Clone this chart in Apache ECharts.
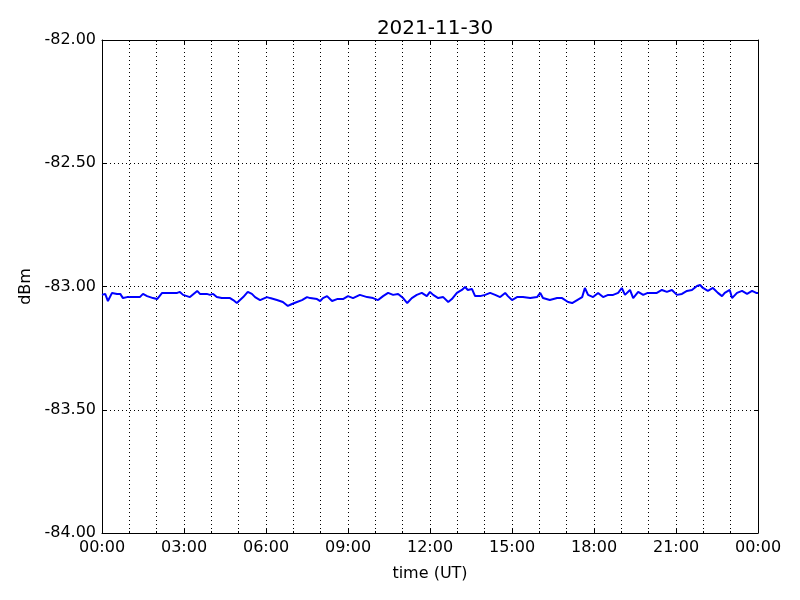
<!DOCTYPE html>
<html>
<head>
<meta charset="utf-8">
<script src="https://cdn.jsdelivr.net/npm/echarts@6/dist/echarts.min.js"></script>
<style>html,body{margin:0;padding:0;background:#fff}#c{width:800px;height:600px}</style>
</head>
<body>
<div id="c"></div>
<script>
// time in minutes since 00:00 UT
const minutes = [0,2,7,13,22,33,40,46,55,68,83,90,99,112,121,132,143,149,165,171,178,193,209,215,230,237,244,252,263,281,288,296,303,310,320,329,336,347,362,369,384,397,408,417,428,439,450,457,472,479,485,494,505,516,529,540,551,566,582,595,606,617,628,639,650,661,670,680,691,702,713,720,727,738,749,760,768,779,790,797,803,812,819,830,841,852,863,874,885,891,900,911,924,940,955,962,968,983,999,1010,1023,1032,1043,1054,1060,1067,1078,1089,1100,1111,1122,1133,1141,1148,1159,1166,1177,1188,1198,1207,1218,1229,1240,1251,1262,1273,1284,1295,1306,1313,1319,1330,1341,1352,1361,1367,1378,1383,1394,1405,1416,1427,1436,1440];
// signal level, dBm
const dbm = [-83.034,-83.034,-83.030,-83.059,-83.026,-83.030,-83.030,-83.047,-83.043,-83.043,-83.043,-83.030,-83.039,-83.047,-83.051,-83.026,-83.026,-83.026,-83.026,-83.022,-83.034,-83.043,-83.018,-83.030,-83.030,-83.034,-83.030,-83.043,-83.047,-83.047,-83.055,-83.067,-83.055,-83.043,-83.022,-83.030,-83.043,-83.055,-83.043,-83.047,-83.055,-83.063,-83.079,-83.071,-83.063,-83.055,-83.043,-83.047,-83.051,-83.059,-83.047,-83.039,-83.059,-83.051,-83.051,-83.039,-83.047,-83.034,-83.043,-83.047,-83.055,-83.039,-83.026,-83.034,-83.030,-83.047,-83.067,-83.047,-83.034,-83.026,-83.039,-83.022,-83.034,-83.047,-83.043,-83.063,-83.051,-83.026,-83.014,-83.002,-83.014,-83.010,-83.039,-83.039,-83.034,-83.026,-83.034,-83.043,-83.026,-83.039,-83.055,-83.043,-83.043,-83.047,-83.043,-83.026,-83.047,-83.055,-83.047,-83.047,-83.063,-83.067,-83.055,-83.043,-83.006,-83.034,-83.043,-83.026,-83.043,-83.034,-83.034,-83.026,-83.006,-83.034,-83.014,-83.047,-83.022,-83.034,-83.026,-83.026,-83.026,-83.014,-83.022,-83.014,-83.034,-83.030,-83.018,-83.014,-82.998,-82.994,-83.006,-83.018,-83.006,-83.026,-83.039,-83.026,-83.014,-83.047,-83.026,-83.018,-83.030,-83.018,-83.026,-83.026];
const titleText = '2021-11-30';
const xName = 'time (UT)';
const yName = 'dBm';
const yMin = -84, yMax = -82, yStep = 0.5;
const xMin = 0, xMax = 1440, xStep = 180;

const font = 'DejaVu Sans';
const pad = n => String(n).padStart(2, '0');
const fmtTime = v => pad(Math.floor(v / 60) % 24) + ':' + pad(Math.round(v % 60));
const dotted = { color: '#000', width: 1, type: [1, 3] };

const chart = echarts.init(document.getElementById('c'), null, { renderer: 'canvas' });
chart.setOption({
  animation: false,
  backgroundColor: '#fff',
  title: {
    text: titleText, left: 430, top: 14, textAlign: 'center',
    textStyle: { fontFamily: font, fontSize: 20, fontWeight: 'normal', color: '#000' }
  },
  grid: { left: 102, right: 42, top: 40, bottom: 67, show: false },
  xAxis: [{
    type: 'value', min: xMin, max: xMax, interval: xStep,
    name: xName, nameLocation: 'middle', nameGap: 33,
    nameTextStyle: { fontFamily: font, fontSize: 16, color: '#000' },
    axisLine: { show: true, onZero: false, lineStyle: { color: '#000', width: 1 } },
    axisTick: { show: true, inside: true, length: 4, lineStyle: { color: '#000' } },
    minorTick: { show: true, splitNumber: 3, length: 2, lineStyle: { color: '#000' } },
    axisLabel: { formatter: fmtTime, fontFamily: font, fontSize: 16, color: '#000', margin: 7 },
    splitLine: { show: true, lineStyle: dotted },
    minorSplitLine: { show: true, lineStyle: dotted }
  }, {
    type: 'value', position: 'top', min: xMin, max: xMax, interval: xStep,
    axisLine: { show: true, onZero: false, lineStyle: { color: '#000', width: 1 } },
    axisTick: { show: true, inside: true, length: 4, lineStyle: { color: '#000' } },
    minorTick: { show: true, splitNumber: 3, length: 2, lineStyle: { color: '#000' } },
    axisLabel: { show: false }, splitLine: { show: false }
  }],
  yAxis: [{
    type: 'value', min: yMin, max: yMax, interval: yStep,
    name: yName, nameLocation: 'middle', nameGap: 66, nameRotate: 90,
    nameTextStyle: { fontFamily: font, fontSize: 16, color: '#000' },
    axisLine: { show: true, onZero: false, lineStyle: { color: '#000', width: 1 } },
    axisTick: { show: true, inside: true, length: 4, lineStyle: { color: '#000' } },
    axisLabel: { formatter: v => v.toFixed(2), fontFamily: font, fontSize: 16, color: '#000', margin: 6 },
    splitLine: { show: true, lineStyle: dotted }
  }, {
    type: 'value', position: 'right', min: yMin, max: yMax, interval: yStep,
    axisLine: { show: true, onZero: false, lineStyle: { color: '#000', width: 1 } },
    axisTick: { show: true, inside: true, length: 4, lineStyle: { color: '#000' } },
    axisLabel: { show: false }, splitLine: { show: false }
  }],
  series: [{
    type: 'line', xAxisIndex: 0, yAxisIndex: 0,
    data: minutes.map((m, i) => [m, dbm[i]]),
    showSymbol: false, symbol: 'none',
    lineStyle: { color: '#0000ff', width: 2 },
    z: 5
  }]
});
</script>
</body>
</html>
